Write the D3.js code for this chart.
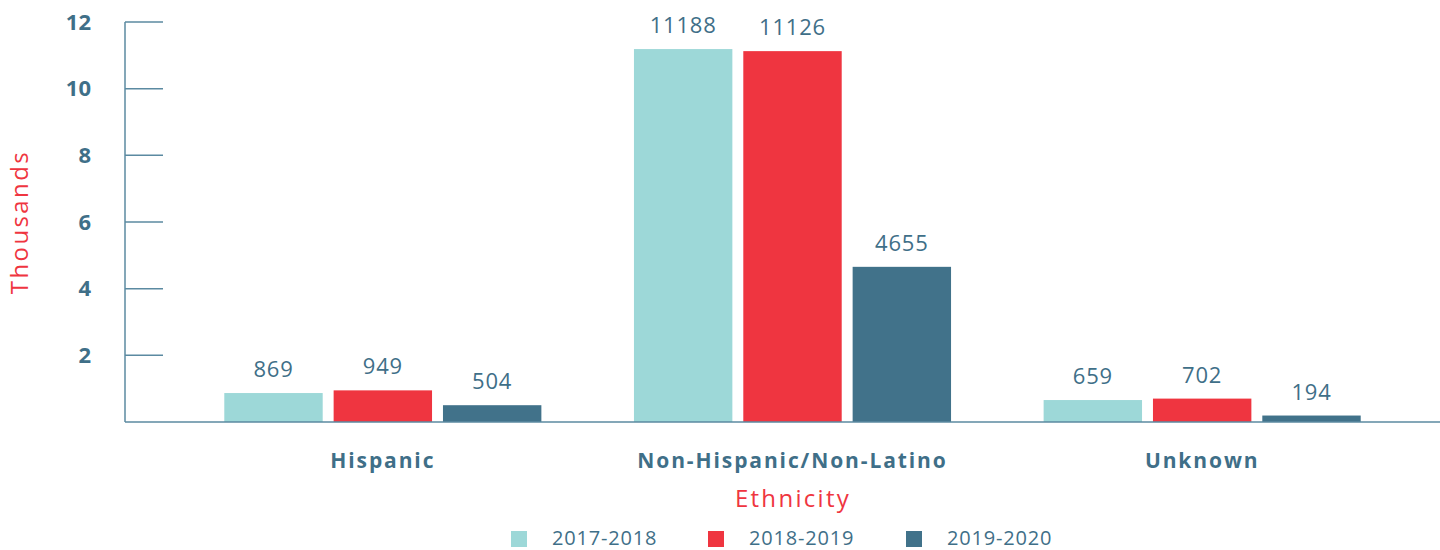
<!DOCTYPE html>
<html>
<head>
<meta charset="utf-8">
<script src="https://cdn.jsdelivr.net/npm/d3@7"></script>
<style>
  body { margin: 0; background: #fff; }
  svg { display: block; }
</style>
</head>
<body>
<svg id="svg" width="1440" height="550"></svg>
<script>
const categories = ['Hispanic', 'Non-Hispanic/Non-Latino', 'Unknown']
const seriesNames = ['2017-2018', '2018-2019', '2019-2020']
const values2017 = [869, 11188, 659]
const values2018 = [949, 11126, 702]
const values2019 = [504, 4655, 194]
const yTicks = [2, 4, 6, 8, 10, 12]

const colours = ['#9dd8d8', '#ef3540', '#41728a']
const textColour = '#3f6f88'
const axisColour = '#5b8aa1'
const red = '#ef3540'
const font = 'Open Sans'

const allValues = [values2017, values2018, values2019]
const rows = []
categories.forEach((c, i) => {
  seriesNames.forEach((s, j) => {
    rows.push({ category: c, series: s, value: allValues[j][i] })
  })
})

const svg = d3.select('#svg')

const x0 = d3.scaleBand()
  .domain(categories)
  .range([178, 1407])
  .paddingInner(0.226)
  .paddingOuter(0.113)

const x1 = d3.scaleBand()
  .domain(seriesNames)
  .range([0, x0.bandwidth()])
  .paddingInner(0.1)

const y = d3.scaleLinear()
  .domain([0, 12])
  .range([422, 22])

const colourScale = d3.scaleOrdinal()
  .domain(seriesNames)
  .range(colours)

// y axis line and ticks
svg.append('line')
  .attr('x1', 125).attr('x2', 125)
  .attr('y1', y(12)).attr('y2', y(0))
  .attr('stroke', axisColour)
  .attr('stroke-width', 1.5)

svg.selectAll('.ytick')
  .data(yTicks)
  .enter()
  .append('line')
  .attr('x1', 125).attr('x2', 163)
  .attr('y1', d => y(d)).attr('y2', d => y(d))
  .attr('stroke', axisColour)
  .attr('stroke-width', 1.5)

svg.selectAll('.ylabel')
  .data(yTicks)
  .enter()
  .append('text')
  .text(d => d)
  .attr('x', 91)
  .attr('y', d => y(d))
  .attr('dy', '0.35em')
  .attr('text-anchor', 'end')
  .style('font-family', font)
  .style('font-weight', 'bold')
  .style('font-size', '22px')
  .attr('fill', textColour)

// bars
const groups = svg.selectAll('.group')
  .data(rows)
  .enter()
  .append('g')

groups.append('rect')
  .attr('x', d => x0(d.category) + x1(d.series))
  .attr('y', d => y(d.value / 1000))
  .attr('width', x1.bandwidth())
  .attr('height', d => y(0) - y(d.value / 1000))
  .attr('fill', d => colourScale(d.series))

groups.append('text')
  .text(d => d.value)
  .attr('x', d => x0(d.category) + x1(d.series) + x1.bandwidth() / 2)
  .attr('y', d => y(d.value / 1000) - 16)
  .attr('text-anchor', 'middle')
  .style('font-family', font)
  .style('font-size', '22px')
  .style('letter-spacing', '0.8px')
  .attr('fill', textColour)

// baseline
svg.append('line')
  .attr('x1', 125).attr('x2', 1440)
  .attr('y1', y(0)).attr('y2', y(0))
  .attr('stroke', axisColour)
  .attr('stroke-width', 1.5)

// category labels
svg.selectAll('.xlabel')
  .data(categories)
  .enter()
  .append('text')
  .text(d => d)
  .attr('x', d => x0(d) + x0.bandwidth() / 2)
  .attr('y', 468)
  .attr('text-anchor', 'middle')
  .style('font-family', font)
  .style('font-weight', 'bold')
  .style('font-size', '21px')
  .style('letter-spacing', '1.9px')
  .attr('fill', textColour)

// axis titles
svg.append('text')
  .text('Ethnicity')
  .attr('x', 793)
  .attr('y', 507)
  .attr('text-anchor', 'middle')
  .style('font-family', font)
  .style('font-size', '24px')
  .style('letter-spacing', '2.3px')
  .attr('fill', red)

svg.append('text')
  .text('Thousands')
  .attr('transform', 'translate(28,222) rotate(-90)')
  .attr('text-anchor', 'middle')
  .style('font-family', font)
  .style('font-size', '24px')
  .style('letter-spacing', '2.4px')
  .attr('fill', red)

// legend
const legendX = [511, 708, 906]
const legend = svg.selectAll('.legend')
  .data(seriesNames)
  .enter()
  .append('g')
  .attr('transform', (d, i) => `translate(${legendX[i]},531)`)

legend.append('rect')
  .attr('width', 16)
  .attr('height', 16)
  .attr('fill', d => colourScale(d))

legend.append('text')
  .text(d => d)
  .attr('x', 41)
  .attr('y', 14)
  .style('font-family', font)
  .style('font-size', '20px')
  .style('letter-spacing', '0.8px')
  .attr('fill', textColour)
</script>
</body>
</html>
